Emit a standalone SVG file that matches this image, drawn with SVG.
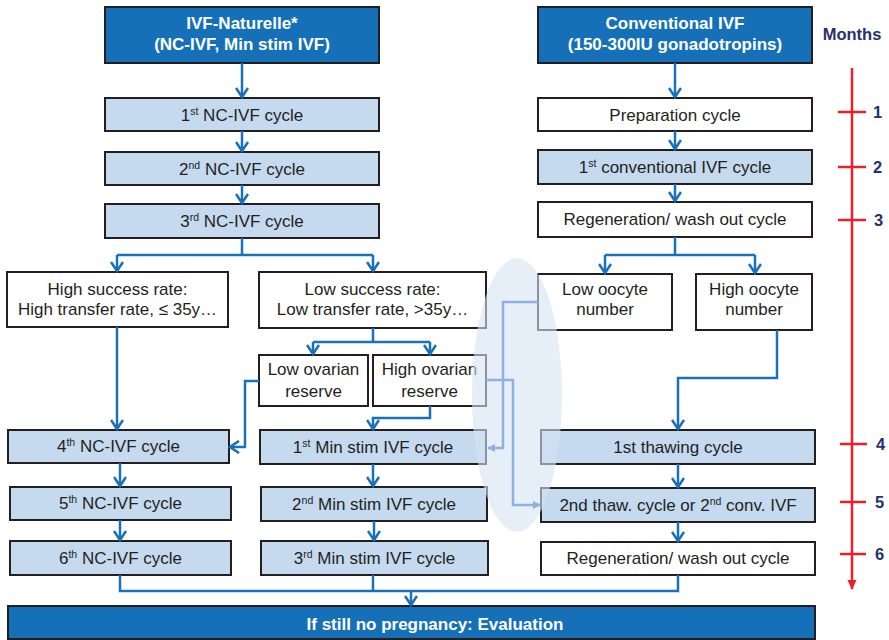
<svg xmlns="http://www.w3.org/2000/svg" width="889" height="640" viewBox="0 0 889 640">
  <style>
    .box { stroke: #231f20; stroke-width: 2; }
    .head { fill: #1670b8; }
    .light { fill: #c5d9ef; }
    .plain { fill: #ffffff; }
    .t { font-family: "Liberation Sans", Arial, sans-serif; font-size: 17px; fill: #231f20; text-anchor: middle; }
    .th { font-family: "Liberation Sans", Arial, sans-serif; font-size: 17px; font-weight: bold; fill: #ffffff; text-anchor: middle; }
    .sup { font-size: 10.5px; }
    .mo { font-family: "Liberation Sans", Arial, sans-serif; font-size: 16.5px; font-weight: bold; fill: #27306b; }
    .link { fill: none; stroke: #1a70bb; stroke-width: 2.5; }
    .soft { fill: none; stroke: #8fb1dd; stroke-width: 2.5; }
    .red { fill: none; stroke: #e8202a; stroke-width: 2.5; }
  </style>
  <defs>
    <marker id="chev" markerUnits="userSpaceOnUse" viewBox="0 0 12 14" refX="10" refY="7" markerWidth="12" markerHeight="14" orient="auto">
      <path d="M1,1 L10,7 L1,13" fill="none" stroke="#1a70bb" stroke-width="2.6"/>
    </marker>
    <marker id="tri" markerUnits="userSpaceOnUse" viewBox="0 0 8 8" refX="7" refY="4" markerWidth="8" markerHeight="8" orient="auto">
      <path d="M0,0 L8,4 L0,8 Z" fill="#8fb1dd"/>
    </marker>
    <marker id="redtip" markerUnits="userSpaceOnUse" viewBox="0 0 10 10" refX="9" refY="5" markerWidth="10" markerHeight="10" orient="auto">
      <path d="M0,0.5 L10,5 L0,9.5 Z" fill="#e8202a"/>
    </marker>
  </defs>

  <!-- Left column: natural cycle / mild stimulation -->
  <g id="nc-header"><rect class="box head" x="105" y="7" width="274" height="56"/>
    <text class="th" x="242" y="29">IVF-Naturelle*</text>
    <text class="th" x="242" y="50">(NC-IVF, Min stim IVF)</text></g>
  <g id="nc1"><rect class="box light" x="105" y="98" width="274" height="33"/>
    <text class="t" x="242" y="121">1<tspan class="sup" dy="-6">st</tspan><tspan dy="6"> NC-IVF cycle</tspan></text></g>
  <g id="nc2"><rect class="box light" x="105" y="152" width="274" height="33"/>
    <text class="t" x="242" y="175">2<tspan class="sup" dy="-6">nd</tspan><tspan dy="6"> NC-IVF cycle</tspan></text></g>
  <g id="nc3"><rect class="box light" x="105" y="204" width="274" height="34"/>
    <text class="t" x="242" y="227">3<tspan class="sup" dy="-6">rd</tspan><tspan dy="6"> NC-IVF cycle</tspan></text></g>
  <g id="high-success"><rect class="box plain" x="7" y="272" width="221" height="55"/>
    <text class="t" x="117.5" y="295">High success rate:</text>
    <text class="t" x="117.5" y="315">High transfer rate, ≤ 35y…</text></g>
  <g id="low-success"><rect class="box plain" x="259" y="272" width="227" height="56"/>
    <text class="t" x="372.5" y="295">Low success rate:</text>
    <text class="t" x="372.5" y="315">Low transfer rate, &gt;35y…</text></g>
  <g id="low-reserve"><rect class="box plain" x="259" y="355" width="109" height="51"/>
    <text class="t" x="313.5" y="375">Low ovarian</text>
    <text class="t" x="313.5" y="397">reserve</text></g>
  <g id="high-reserve"><rect class="box plain" x="373" y="355" width="113" height="51"/>
    <text class="t" x="429.5" y="375">High ovarian</text>
    <text class="t" x="429.5" y="397">reserve</text></g>
  <g id="nc4"><rect class="box light" x="8" y="430" width="221" height="33"/>
    <text class="t" x="118.5" y="452">4<tspan class="sup" dy="-6">th</tspan><tspan dy="6"> NC-IVF cycle</tspan></text></g>
  <g id="nc5"><rect class="box light" x="10" y="487" width="221" height="33"/>
    <text class="t" x="120.5" y="509">5<tspan class="sup" dy="-6">th</tspan><tspan dy="6"> NC-IVF cycle</tspan></text></g>
  <g id="nc6"><rect class="box light" x="10" y="541" width="221" height="34"/>
    <text class="t" x="120.5" y="564">6<tspan class="sup" dy="-6">th</tspan><tspan dy="6"> NC-IVF cycle</tspan></text></g>
  <g id="ms1"><rect class="box light" x="260" y="430" width="226" height="34"/>
    <text class="t" x="373" y="453">1<tspan class="sup" dy="-6">st</tspan><tspan dy="6"> Min stim IVF cycle</tspan></text></g>
  <g id="ms2"><rect class="box light" x="261" y="487" width="226" height="34"/>
    <text class="t" x="374" y="510">2<tspan class="sup" dy="-6">nd</tspan><tspan dy="6"> Min stim IVF cycle</tspan></text></g>
  <g id="ms3"><rect class="box light" x="261" y="541" width="227" height="34"/>
    <text class="t" x="374.5" y="564">3<tspan class="sup" dy="-6">rd</tspan><tspan dy="6"> Min stim IVF cycle</tspan></text></g>

  <!-- Right column: conventional stimulation -->
  <g id="conv-header"><rect class="box head" x="538" y="7" width="274" height="56"/>
    <text class="th" x="675" y="29">Conventional IVF</text>
    <text class="th" x="675" y="50">(150-300IU gonadotropins)</text></g>
  <g id="prep"><rect class="box plain" x="538" y="98" width="274" height="33"/>
    <text class="t" x="675" y="121">Preparation cycle</text></g>
  <g id="conv1"><rect class="box light" x="538" y="150" width="274" height="34"/>
    <text class="t" x="675" y="173">1<tspan class="sup" dy="-6">st</tspan><tspan dy="6"> conventional IVF cycle</tspan></text></g>
  <g id="regen1"><rect class="box plain" x="538" y="202" width="274" height="35"/>
    <text class="t" x="675" y="225">Regeneration/ wash out cycle</text></g>
  <g id="low-oocyte"><rect class="box plain" x="538" y="274" width="134" height="56"/>
    <text class="t" x="605" y="295">Low oocyte</text>
    <text class="t" x="605" y="315">number</text></g>
  <g id="high-oocyte"><rect class="box plain" x="696" y="274" width="116" height="56"/>
    <text class="t" x="754" y="295">High oocyte</text>
    <text class="t" x="754" y="315">number</text></g>
  <g id="thaw1"><rect class="box light" x="541" y="430" width="274" height="34"/>
    <text class="t" x="678" y="453">1st thawing cycle</text></g>
  <g id="thaw2"><rect class="box light" x="541" y="488" width="274" height="34"/>
    <text class="t" x="678" y="511">2nd thaw. cycle or 2<tspan class="sup" dy="-6">nd</tspan><tspan dy="6"> conv. IVF</tspan></text></g>
  <g id="regen2"><rect class="box plain" x="541" y="542" width="274" height="33"/>
    <text class="t" x="678" y="564">Regeneration/ wash out cycle</text></g>

  <!-- Final evaluation bar -->
  <g id="evaluation"><rect class="box head" x="8" y="606" width="807" height="33"/>
    <text class="th" x="435" y="630">If still no pregnancy: Evaluation</text></g>

  <!-- Translucent highlight around the crossover links -->
  <ellipse id="crossover" cx="517" cy="395" rx="45" ry="137" fill="#d6e2f3" fill-opacity="0.6"/>

  <!-- Connectors -->
  <g id="connectors">
    <path class="link" d="M242,63 V97" marker-end="url(#chev)"/>
    <path class="link" d="M242,131 V151" marker-end="url(#chev)"/>
    <path class="link" d="M242,185 V203" marker-end="url(#chev)"/>
    <path class="link" d="M242,238 V255 M117,255 H373"/>
    <path class="link" d="M117,255 V271" marker-end="url(#chev)"/>
    <path class="link" d="M373,255 V271" marker-end="url(#chev)"/>
    <path class="link" d="M373,328 V342 M313,342 H430"/>
    <path class="link" d="M313,342 V354" marker-end="url(#chev)"/>
    <path class="link" d="M430,342 V354" marker-end="url(#chev)"/>
    <path class="link" d="M117,327 V429" marker-end="url(#chev)"/>
    <path class="link" d="M259,381 H245 V447 H230" marker-end="url(#chev)"/>
    <path class="link" d="M430,406 V418 H373 V429" marker-end="url(#chev)"/>
    <path class="link" d="M120,463 V486" marker-end="url(#chev)"/>
    <path class="link" d="M120,520 V540" marker-end="url(#chev)"/>
    <path class="link" d="M373,464 V486" marker-end="url(#chev)"/>
    <path class="link" d="M374,521 V540" marker-end="url(#chev)"/>
    <path class="link" d="M120,575 V591 H678 V575 M373,575 V591"/>
    <path class="link" d="M411,591 V605" marker-end="url(#chev)"/>

    <path class="link" d="M675,63 V97" marker-end="url(#chev)"/>
    <path class="link" d="M675,131 V149" marker-end="url(#chev)"/>
    <path class="link" d="M675,184 V201" marker-end="url(#chev)"/>
    <path class="link" d="M675,237 V255 M605,255 H755"/>
    <path class="link" d="M605,255 V273" marker-end="url(#chev)"/>
    <path class="link" d="M755,255 V273" marker-end="url(#chev)"/>
    <path class="link" d="M777,330 V378 H678 V429" marker-end="url(#chev)"/>
    <path class="link" d="M678,464 V487" marker-end="url(#chev)"/>
    <path class="link" d="M678,522 V541" marker-end="url(#chev)"/>

    <path class="soft" d="M538,302 H503 V448 H488" marker-end="url(#tri)"/>
    <path class="soft" d="M486,380 H513 V505 H540" marker-end="url(#tri)"/>
  </g>

  <!-- Timeline in months -->
  <g id="timeline">
    <text class="mo" x="852" y="40" text-anchor="middle" font-size="17">Months</text>
    <path class="red" d="M852,68 V589" marker-end="url(#redtip)"/>
    <path class="red" d="M838,112 H866 M838,167 H866 M838,220 H866 M840,444 H867 M840,502 H866 M840,554 H866"/>
    <text class="mo" x="873" y="118">1</text>
    <text class="mo" x="873" y="173">2</text>
    <text class="mo" x="874" y="226">3</text>
    <text class="mo" x="876" y="450">4</text>
    <text class="mo" x="875" y="508">5</text>
    <text class="mo" x="875" y="560">6</text>
  </g>
</svg>
